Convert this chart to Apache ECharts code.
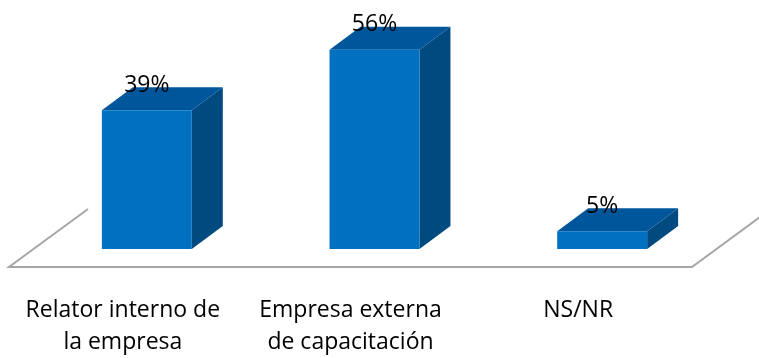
<!DOCTYPE html>
<html>
<head>
<meta charset="utf-8">
<script src="https://cdn.jsdelivr.net/npm/echarts@6/dist/echarts.min.js"></script>
<style>
  html, body { margin: 0; padding: 0; background: #fff; }
  #chart { width: 759px; height: 358px; }
</style>
</head>
<body>
<div id="chart"></div>
<script>
// Categories and their percentages
const categories = ['Relator interno de\nla empresa', 'Empresa externa\nde capacitación', 'NS/NR'];
const values = [39, 56, 5];

// 3D look: bar depth and floor depth offsets (px)
const BAR_DX = 31, BAR_DY = 23;
const FLOOR_DX = 79, FLOOR_DY = 58;
const FRONT_DX = 24, FRONT_DY = 18; // bars' front plane sits behind the floor's front edge
const BAR_RATIO = 0.395;

const FONT = 'Open Sans';

const chart = echarts.init(document.getElementById('chart'));

function renderFloor(params, api) {
  const cs = params.coordSys;
  const x0 = cs.x - FRONT_DX, x1 = cs.x + cs.width - FRONT_DX;
  const y = cs.y + cs.height + FRONT_DY;
  const style = { stroke: '#a6a6a6', lineWidth: 2, fill: null };
  return {
    type: 'group',
    children: [
      { type: 'polyline', shape: { points: [[x0 + FLOOR_DX, y - FLOOR_DY], [x0, y], [x1, y], [x1 + FLOOR_DX, y - FLOOR_DY]] }, style: style }
    ]
  };
}

function renderBar(params, api) {
  const idx = api.value(0);
  const v = api.value(1);
  const top = api.coord([idx, v]);
  const base = api.coord([idx, 0]);
  const w = api.size([1, 0])[0] * BAR_RATIO;
  const xl = top[0] - w / 2, xr = top[0] + w / 2;
  const yt = top[1], yb = base[1];
  return {
    type: 'group',
    children: [
      { type: 'polygon', shape: { points: [[xr, yt], [xr + BAR_DX, yt - BAR_DY], [xr + BAR_DX, yb - BAR_DY], [xr, yb]] }, style: { fill: '#004a80' } },
      { type: 'polygon', shape: { points: [[xl, yt], [xl + BAR_DX, yt - BAR_DY], [xr + BAR_DX, yt - BAR_DY], [xr, yt]] }, style: { fill: '#00569b' } },
      { type: 'rect', shape: { x: xl, y: yt, width: w, height: yb - yt }, style: { fill: '#0070c0' } },
      { type: 'text', x: top[0], y: yt - BAR_DY - 2, style: { text: v + '%', fill: '#000', font: '23px "' + FONT + '"', align: 'center', verticalAlign: 'middle' } }
    ]
  };
}

chart.setOption({
  animation: false,
  grid: { left: 33, right: 43, top: 35.4, bottom: 106 },
  xAxis: {
    type: 'category',
    data: categories,
    axisLine: { show: false },
    axisTick: { show: false },
    splitLine: { show: false },
    axisLabel: {
      interval: 0,
      margin: 45,
      fontFamily: FONT,
      fontSize: 23,
      lineHeight: 32,
      color: '#000',
      padding: [0, 2 * FRONT_DX, 0, 0]
    }
  },
  yAxis: { type: 'value', min: 0, max: 60, show: false },
  series: [
    { type: 'custom', data: [[0, 0]], renderItem: renderFloor, silent: true, z: 1 },
    { type: 'custom', data: values.map((v, i) => [i, v]), renderItem: renderBar, z: 2 }
  ]
});
</script>
</body>
</html>
